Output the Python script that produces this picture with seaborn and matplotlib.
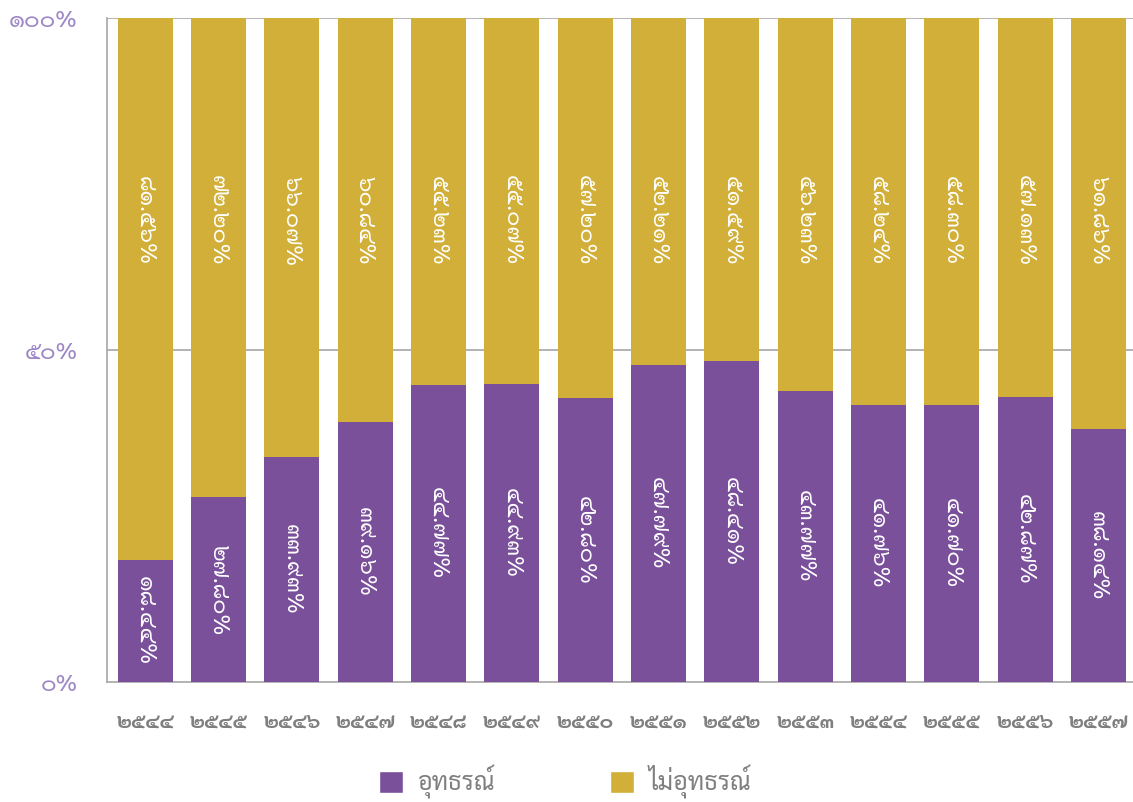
import matplotlib
matplotlib.use('Agg')
import matplotlib.pyplot as plt
import seaborn as sns
import pandas as pd
from matplotlib.patches import Patch
from matplotlib.ticker import FixedLocator

# ข้อมูล (ร้อยละ)
ปี = ['2544', '2545', '2546', '2547', '2548', '2549', '2550',
      '2551', '2552', '2553', '2554', '2555', '2556', '2557']
อุทธรณ์ = [18.44, 27.80, 33.93, 39.16, 44.77, 44.93, 42.80,
           47.79, 48.41, 43.77, 41.76, 41.70, 42.87, 38.14]
ไม่อุทธรณ์ = [81.56, 72.20, 66.07, 60.84, 55.23, 55.07, 57.20,
              52.21, 51.59, 56.23, 58.24, 58.30, 57.13, 61.86]
y_ticks = [0, 50, 100]

THAI = str.maketrans('0123456789', '๐๑๒๓๔๕๖๗๘๙')
def thai(s):
    return str(s).translate(THAI)

ม่วง = '#7a509b'
ทอง = '#d1af39'
เทา = '#7f7f7f'

sns.set_style('white')
plt.rcParams['font.family'] = ['Sarabun', 'Anuphan', 'Noto Sans Thai', 'DejaVu Sans']

df = pd.DataFrame({'ปี': [thai(p) for p in ปี], 'อุทธรณ์': อุทธรณ์, 'ไม่อุทธรณ์': ไม่อุทธรณ์})
df['รวม'] = df['อุทธรณ์'] + df['ไม่อุทธรณ์']

fig = plt.figure(figsize=(11.33, 8.02), dpi=100)
ax = fig.add_axes([0.0944, 0.1496, 0.9056, 0.828])

# เส้นกริด
for t in y_ticks[1:]:
    ax.axhline(t, color='#a6a6a6', lw=1.2, zorder=0)

sns.barplot(data=df, x='ปี', y='รวม', color=ทอง, width=0.75, saturation=1,
            linewidth=0, ax=ax, zorder=2)
sns.barplot(data=df, x='ปี', y='อุทธรณ์', color=ม่วง, width=0.75, saturation=1,
            linewidth=0, ax=ax, zorder=3)

LABEL_Y = 69.5
for i, (a, b) in enumerate(zip(อุทธรณ์, ไม่อุทธรณ์)):
    ax.text(i, a / 2, thai(f'{a:.2f}%'), rotation=270, ha='center', va='center',
            color='white', fontsize=16.5, zorder=4)
    ax.text(i, LABEL_Y, thai(f'{b:.2f}%'), rotation=270, ha='center', va='center',
            color='white', fontsize=16.5, zorder=4)

ax.set_xlim(-0.52, 13.47)
ax.set_ylim(0, 100)
ax.set_yticks(y_ticks)
ax.set_yticklabels([thai(f'{t}%') for t in y_ticks], color='#9d87c6', fontsize=17)
ax.set_xlabel('')
ax.set_ylabel('')
ax.tick_params(axis='x', which='major', length=0, pad=21, labelcolor=เทา, labelsize=15)
for lab in ax.get_xticklabels():
    lab.set_fontweight('bold')
ax.xaxis.set_minor_locator(FixedLocator([i - 0.5 for i in range(len(ปี) + 1)]))
ax.tick_params(axis='x', which='minor', length=8, width=1.2, color='#a6a6a6', direction='out')
ax.tick_params(axis='y', length=5, width=1.2, color='#a6a6a6', direction='out', pad=16)

for side in ['top', 'right']:
    ax.spines[side].set_visible(False)
ax.spines['left'].set_color('#a6a6a6')
ax.spines['bottom'].set_color('#a6a6a6')
ax.spines['left'].set_linewidth(1.2)
ax.spines['bottom'].set_linewidth(1.2)

handles = [Patch(facecolor=ม่วง, label='อุทธรณ์'), Patch(facecolor=ทอง, label='ไม่อุทธรณ์')]
leg = fig.legend(handles=handles, loc='center', bbox_to_anchor=(0.499, 0.025), ncol=2,
                 frameon=False, fontsize=18, handlelength=0.95, handleheight=0.95,
                 columnspacing=4.6, handletextpad=0.6)
for t in leg.get_texts():
    t.set_color(เทา)

fig.savefig('out.png', dpi=100)
